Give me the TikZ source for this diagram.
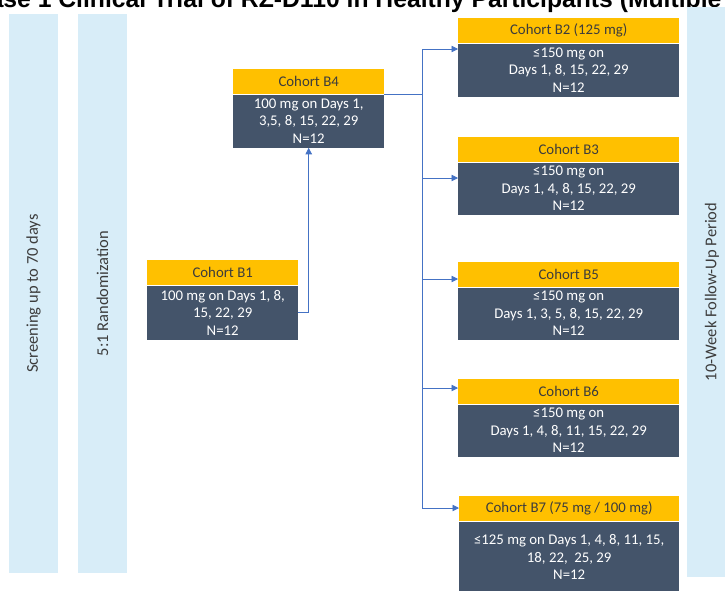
\documentclass[tikz,border=0pt]{standalone}
\usepackage{fontspec}
\setmainfont{Carlito}
\newfontfamily\titlefont{Liberation Sans}
\usetikzlibrary{arrows.meta,positioning}
\definecolor{cohortyellow}{RGB}{255,192,0}
\definecolor{cohortdark}{RGB}{68,84,106}
\definecolor{phasebar}{RGB}{216,237,248}
\definecolor{linkblue}{RGB}{68,114,196}
\definecolor{hdrtext}{RGB}{60,60,60}

\begin{document}
\begin{tikzpicture}[x=1pt,y=-1pt,
  bar/.style={fill=phasebar,rotate=90,minimum width=559,minimum height=49,inner sep=0,
    text=hdrtext,font=\fontsize{16.5}{20}\selectfont},
  hdr/.style={fill=cohortyellow,anchor=north west,minimum height=25,inner sep=0,
    text=hdrtext,font=\fontsize{14.8}{17.5}\selectfont},
  body/.style={fill=cohortdark,below=0pt of #1,inner sep=0,text=white,align=center,
    font=\fontsize{14.8}{17.5}\selectfont},
  link/.style={draw=linkblue,line width=0.8pt},
  arr/.style={link,-{Triangle[length=6.5pt,width=6.5pt]}}]
\useasboundingbox (0,0) rectangle (725,590);
\node[anchor=base west,inner sep=0,font=\titlefont\bfseries\fontsize{24.7}{28}\selectfont] (title) at (-42,7)
  {Phase 1 Clinical Trial of RZ-D110 in Healthy Participants (Multiple};
\node[bar] (screen) at (33.5,293.5) {Screening up to 70 days};
\node[bar] (random) at (102.5,293.5) {5:1 Randomization};
\node[bar,minimum width=570,minimum height=50] (follow) at (712,292) {10-Week Follow-Up Period};
% left cohorts
\node[hdr,minimum width=151] (b1h) at (147,260) {Cohort B1};
\node[body=b1h,minimum width=151,minimum height=54] (b1) {100 mg on Days 1, 8,\\15, 22, 29\\N=12};
\node[hdr,minimum width=151] (b4h) at (233,69) {Cohort B4};
\node[body=b4h,minimum width=151,minimum height=53] (b4) {100 mg on Days 1,\\3,5, 8, 15, 22, 29\\N=12};
% right cohorts
\node[hdr,minimum width=221] (b2h) at (458,18) {Cohort B2 (125 mg)};
\node[body=b2h,minimum width=221,minimum height=53] (b2) {≤150 mg on\\Days 1, 8, 15, 22, 29\\N=12};
\node[hdr,minimum width=221] (b3h) at (458,137) {Cohort B3};
\node[body=b3h,minimum width=221,minimum height=52] (b3) {≤150 mg on\\Days 1, 4, 8, 15, 22, 29\\N=12};
\node[hdr,minimum width=221] (b5h) at (458,262) {Cohort B5};
\node[body=b5h,minimum width=221,minimum height=52] (b5) {≤150 mg on\\Days 1, 3, 5, 8, 15, 22, 29\\N=12};
\node[hdr,minimum width=221] (b6h) at (458,379) {Cohort B6};
\node[body=b6h,minimum width=221,minimum height=52] (b6) {≤150 mg on\\Days 1, 4, 8, 11, 15, 22, 29\\N=12};
\node[hdr,minimum width=220] (b7h) at (459,496) {Cohort B7 (75 mg / 100 mg)};
\node[body=b7h,minimum width=220,minimum height=71] (b7) {≤125 mg on Days 1, 4, 8, 11, 15,\\18, 22,\ \ 25, 29\\N=12};
% connectors
\coordinate (j2) at (422,49);
\coordinate (j3) at (422,178);
\coordinate (j5) at (422,279);
\coordinate (j6) at (422,388);
\coordinate (j7) at (422,508);
\draw[arr] (b1.east) -| (b4.south);
\draw[link] (b4.north east) -- (b4.north east -| j2);
\draw[link] (j2) -- (j7);
\foreach \j/\b in {j2/b2,j3/b3,j5/b5h,j6/b6h,j7/b7h}
  \draw[arr] (\j) -- (\j -| \b.west);
\end{tikzpicture}
\end{document}
